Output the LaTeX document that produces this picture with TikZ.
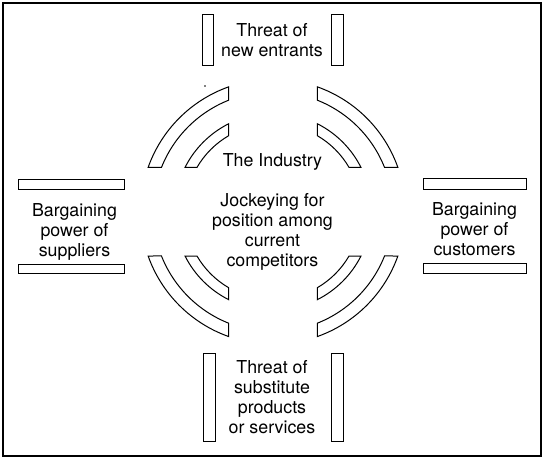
\documentclass[tikz,border=0pt]{standalone}
\usepackage{fontspec}
\setmainfont{TeX Gyre Heros}
\newcommand\blk[1]{\begin{tabular}[t]{@{}c@{}}#1\end{tabular}}
\begin{document}
\begin{tikzpicture}[x=1pt,y=1pt,
  bar/.style={draw, line width=1pt},
  seg/.style={draw, line width=1pt, line join=miter},
  lbl/.style={anchor=base, inner sep=0pt, font=\fontsize{17.8}{20}\selectfont}]
\useasboundingbox (0,0) rectangle (548,459);
\draw[line width=1.6pt] (3,3.3) rectangle (541,456);
% bars
\draw[bar] (202,393.5) rectangle (213,444);
\draw[bar] (331.5,393.5) rectangle (343,444);
\draw[bar] (203,17.5) rectangle (215,106);
\draw[bar] (331.5,17.5) rectangle (343.5,106);
\draw[bar] (18,270) rectangle (124,280);
\draw[bar] (18,186) rectangle (124,195);
\draw[bar] (423,270) rectangle (526,281);
\draw[bar] (423,186) rectangle (526,196);
% ring segments
\coordinate (c) at (273,247.3);
\pgfmathsetmacro\g{44.3}
\foreach \b in {0,90,180,270}{
  \foreach \ro/\ri in {132.5/120, 98.5/88}{
    \pgfmathsetmacro\ao{asin(\g/\ro)}
    \pgfmathsetmacro\ai{asin(\g/\ri)}
    \draw[seg] ([shift={(\b+\ao:\ro)}]c)
      arc[start angle=\b+\ao, end angle=\b+90-\ao, radius=\ro]
      -- ([shift={(\b+90-\ai:\ri)}]c)
      arc[start angle=\b+90-\ai, end angle=\b+\ai, radius=\ri]
      -- cycle;
  }
}
\fill (205,373) circle (0.9);
% labels
\node[lbl] (top) at (272,422) {\blk{Threat of\\new entrants}};
\node[lbl] (bottom) at (272,86) {\blk{Threat of\\substitute\\products\\or services}};
\node[lbl] (left) at (74.5,243) {\blk{Bargaining\\power of\\suppliers}};
\node[lbl] (right) at (474.5,243.5) {\blk{Bargaining\\power of\\customers}};
\node[lbl] (ind) at (272.5,293) {The Industry};
\node[lbl] (jock) at (272.5,253) {\blk{Jockeying for\\position among\\current\\competitors}};
\end{tikzpicture}
\end{document}
